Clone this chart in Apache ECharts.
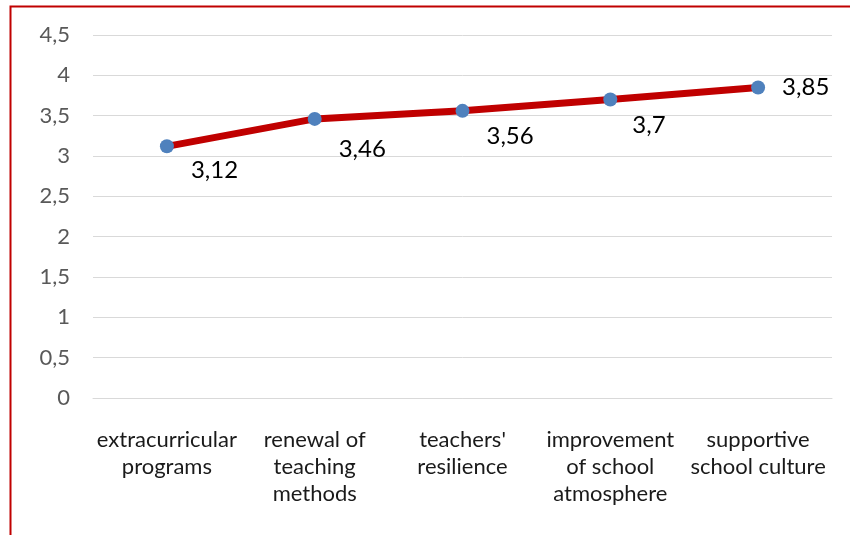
<!DOCTYPE html>
<html>
<head>
<meta charset="utf-8">
<script src="https://cdn.jsdelivr.net/npm/echarts@6/dist/echarts.min.js"></script>
<style>
  html, body { margin: 0; padding: 0; background: #fff; }
  #chart { width: 850px; height: 535px; }
</style>
</head>
<body>
<div id="chart"></div>
<script>
const categories = [
  'extracurricular\nprograms',
  'renewal of\nteaching\nmethods',
  "teachers'\nresilience",
  'improvement\nof school\natmosphere',
  'supportive\nschool culture'
]
const scores = [3.12, 3.46, 3.56, 3.7, 3.85]

const fontFamily = 'Lato, "Open Sans", sans-serif'

const chart = echarts.init(document.getElementById('chart'))

// label placement per point (below-right, last one straight right), as in the original
const labelPos = [[31, 31], [31, 37], [31, 32], [29, 33], [31, 7]]

const pointData = scores.map((v, i) => ({
  value: v,
  label: { position: labelPos[i], align: 'left', verticalAlign: 'middle' },
}))

const option = {
  backgroundColor: '#fff',
  textStyle: {
    fontFamily: fontFamily,
  },
  graphic: [{
    type: 'rect',
    shape: { x: 10.5, y: 6.5, width: 900, height: 600 },
    style: { fill: 'none', stroke: '#c00000', lineWidth: 2 },
    silent: true,
  }],
  grid: {
    left: 93,
    right: 18,
    top: 35,
    bottom: 137,
  },
  xAxis: {
    type: 'category',
    data: categories,
    boundaryGap: true,
    axisLine: {
      lineStyle: { color: '#d9d9d9', width: 1 },
    },
    axisTick: { show: false },
    axisLabel: {
      interval: 0,
      margin: 28,
      color: '#1a1a1a',
      fontSize: 22,
      lineHeight: 27,
      fontFamily: fontFamily,
    },
  },
  yAxis: {
    type: 'value',
    min: 0,
    max: 4.5,
    interval: 0.5,
    axisLine: { show: false },
    axisTick: { show: false },
    splitLine: {
      lineStyle: { color: '#d9d9d9', width: 1 },
    },
    axisLabel: {
      margin: 23,
      color: '#595959',
      fontSize: 22,
      fontFamily: fontFamily,
      formatter: v => String(v).replace('.', ','),
    },
  },
  series: [{
    type: 'line',
    data: pointData,
    symbol: 'circle',
    symbolSize: 14,
    itemStyle: { color: '#4f81bd' },
    lineStyle: { color: '#c00000', width: 7 },
    label: {
      show: true,
      color: '#000',
      fontSize: 24,
      fontFamily: fontFamily,
      formatter: p => String(p.value).replace('.', ','),
    },
    labelLayout: { hideOverlap: false },
    z: 3,
  }],
}

chart.setOption(option)
</script>
</body>
</html>
